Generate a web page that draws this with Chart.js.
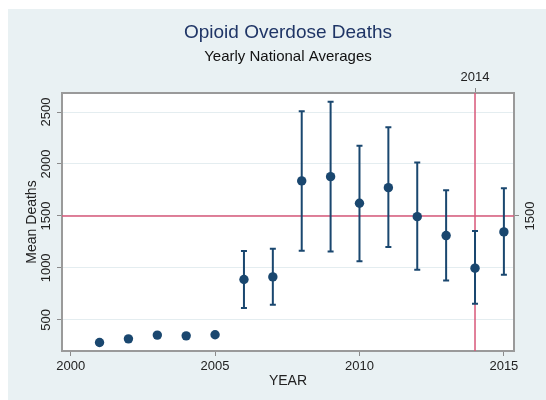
<!DOCTYPE html>
<html>
<head>
<meta charset="utf-8">
<script src="https://cdn.jsdelivr.net/npm/chart.js@4.4.0/dist/chart.umd.min.js"></script>
<style>
  html, body { margin: 0; padding: 0; background: #fff; }
  #wrap { position: absolute; left: 8px; top: 9px; width: 538px; height: 391px; }
</style>
</head>
<body>
<div id="wrap"><canvas id="chart"></canvas></div>
<script>
// data
var years = [2001, 2002, 2003, 2004, 2005, 2006, 2007, 2008, 2009, 2010, 2011, 2012, 2013, 2014, 2015];
var meanDeaths = [282, 317, 353, 346, 356, 888, 913, 1837, 1878, 1622, 1772, 1493, 1311, 997, 1346];
var lowerCI = [null, null, null, null, null, 615, 645, 1166, 1157, 1064, 1202, 981, 878, 654, 933];
var upperCI = [null, null, null, null, null, 1163, 1183, 2507, 2599, 2176, 2353, 2013, 1747, 1356, 1766];
var xTicks = [2000, 2005, 2010, 2015];
var yTicks = [500, 1000, 1500, 2000, 2500];
var refYear = 2014;
var refLevel = 1500;

var FONT = "'Liberation Sans', Arial, sans-serif";
var NAVY = "#1a476f";
var REDLINE = "#d8587a";
var FRAME = "#9a9a9a";
var TICKCOL = "#8a8a8a";

function fixTicks(list) {
  return function (scale) {
    scale.ticks = list.map(function (v) { return { value: v }; });
  };
}

function drawRotLabels(ctx, scale, x) {
  ctx.save();
  ctx.fillStyle = "#222";
  ctx.font = "13px " + FONT;
  ctx.textAlign = "center";
  ctx.textBaseline = "middle";
  scale.ticks.forEach(function (t) {
    var y = scale.getPixelForValue(t.value);
    ctx.save();
    ctx.translate(x, y);
    ctx.rotate(-Math.PI / 2);
    ctx.fillText(String(t.value), 0, 0);
    ctx.restore();
  });
  ctx.restore();
}

var stataLook = {
  id: "stataLook",
  beforeDraw: function (chart) {
    var ctx = chart.ctx, a = chart.chartArea;
    ctx.save();
    ctx.fillStyle = "#e9f1f3";
    ctx.fillRect(0, 0, chart.width, chart.height);
    ctx.fillStyle = "#fff";
    ctx.fillRect(a.left, a.top, a.right - a.left, a.bottom - a.top);
    ctx.restore();
  },
  beforeDatasetsDraw: function (chart) {
    var ctx = chart.ctx, a = chart.chartArea;
    var xs = chart.scales.x, ys = chart.scales.y;
    ctx.save();
    // reference lines
    ctx.strokeStyle = REDLINE;
    ctx.lineWidth = 1.5;
    var ry = ys.getPixelForValue(refLevel);
    var rx = xs.getPixelForValue(refYear);
    ctx.beginPath();
    ctx.moveTo(a.left, ry); ctx.lineTo(a.right, ry);
    ctx.moveTo(rx, a.top); ctx.lineTo(rx, a.bottom);
    ctx.stroke();
    // error bars
    ctx.strokeStyle = NAVY;
    ctx.lineWidth = 2;
    years.forEach(function (yr, i) {
      if (lowerCI[i] == null) return;
      var x = xs.getPixelForValue(yr);
      var lo = ys.getPixelForValue(lowerCI[i]);
      var hi = ys.getPixelForValue(upperCI[i]);
      ctx.beginPath();
      ctx.moveTo(x, lo); ctx.lineTo(x, hi);
      ctx.moveTo(x - 3, lo); ctx.lineTo(x + 3, lo);
      ctx.moveTo(x - 3, hi); ctx.lineTo(x + 3, hi);
      ctx.stroke();
    });
    ctx.restore();
  },
  afterDraw: function (chart) {
    var ys = chart.scales.y, y2 = chart.scales.y2;
    drawRotLabels(chart.ctx, ys, ys.right - 16);
    drawRotLabels(chart.ctx, y2, y2.left + 16);
  }
};

var ctx = document.getElementById("chart").getContext("2d");
var chart = new Chart(ctx, {
  type: "scatter",
  data: {
    datasets: [{
      label: "Mean Deaths",
      data: years.map(function (y, i) { return { x: y, y: meanDeaths[i] }; }),
      backgroundColor: NAVY,
      borderWidth: 0,
      pointRadius: 4.7,
      pointHoverRadius: 4.7
    }]
  },
  options: {
    responsive: true,
    maintainAspectRatio: false,
    animation: false,
    layout: { padding: 0 },
    plugins: {
      legend: { display: false },
      tooltip: { enabled: false },
      title: {
        display: true,
        fullSize: false,
        text: "Opioid Overdose Deaths",
        color: "#1f3566",
        font: { family: FONT, size: 19, weight: "normal" },
        padding: { top: 12.6, bottom: 0 }
      },
      subtitle: {
        display: true,
        fullSize: false,
        text: "Yearly National Averages",
        color: "#111",
        font: { family: FONT, size: 15, weight: "normal" },
        padding: { top: 3.6, bottom: 0 }
      }
    },
    scales: {
      x: {
        type: "linear",
        position: "bottom",
        min: 1999.7,
        max: 2015.35,
        afterBuildTicks: fixTicks(xTicks),
        afterFit: function (s) { s.height = 49; },
        ticks: {
          color: "#222",
          font: { family: FONT, size: 13 },
          padding: 3,
          callback: function (v) { return String(v); }
        },
        grid: { drawOnChartArea: false, tickLength: 5, tickColor: TICKCOL },
        border: { color: FRAME, width: 2 },
        title: {
          display: true,
          text: "YEAR",
          color: "#222",
          font: { family: FONT, size: 14 },
          padding: { top: 0, bottom: 10.6 }
        }
      },
      x2: {
        type: "linear",
        position: "top",
        min: 1999.7,
        max: 2015.35,
        afterBuildTicks: fixTicks([refYear]),
        afterFit: function (s) { s.height = 27; },
        ticks: {
          color: "#222",
          font: { family: FONT, size: 13 },
          padding: 3,
          callback: function (v) { return String(v); }
        },
        grid: { drawOnChartArea: false, tickLength: 5, tickColor: TICKCOL },
        border: { color: FRAME, width: 2 }
      },
      y: {
        type: "linear",
        position: "left",
        min: 200,
        max: 2683,
        afterBuildTicks: fixTicks(yTicks),
        afterFit: function (s) { s.width = 54; },
        ticks: { display: false },
        grid: { color: "#e4edf0", tickLength: 5, tickColor: TICKCOL },
        border: { color: FRAME, width: 2 },
        title: {
          display: true,
          text: "Mean Deaths",
          color: "#222",
          font: { family: FONT, size: 14 },
          padding: { top: 15.6, bottom: 0 }
        }
      },
      y2: {
        type: "linear",
        position: "right",
        min: 200,
        max: 2683,
        afterBuildTicks: fixTicks([refLevel]),
        afterFit: function (s) { s.width = 32; },
        ticks: { display: false },
        grid: { drawOnChartArea: false, tickLength: 5, tickColor: TICKCOL },
        border: { color: FRAME, width: 2 }
      }
    }
  },
  plugins: [stataLook]
});
</script>
</body>
</html>
